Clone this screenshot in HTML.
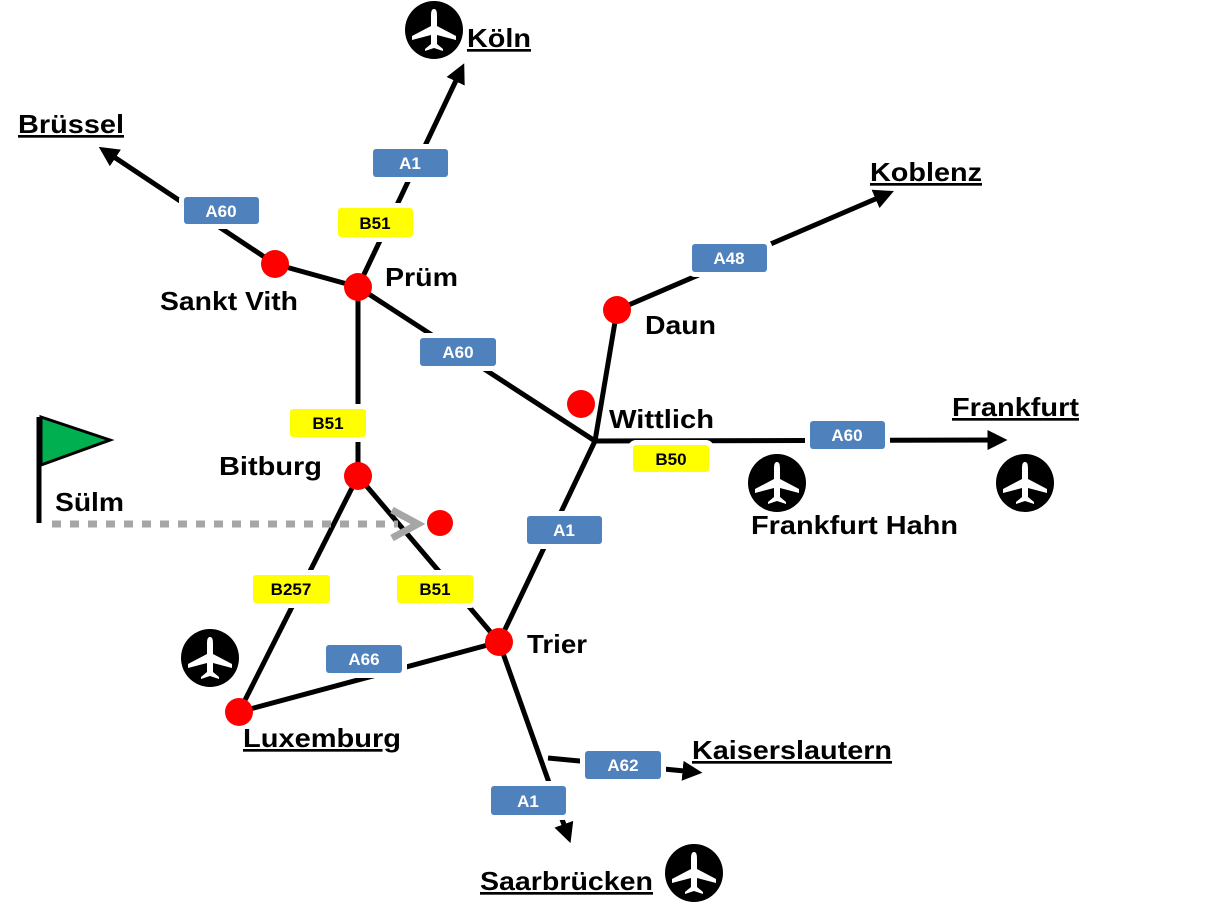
<!DOCTYPE html>
<html><head><meta charset="utf-8"><style>
body{margin:0;background:#fff}
svg{display:block}
text{font-family:"Liberation Sans",Arial,sans-serif;font-weight:bold}
.c{font-size:26px;fill:#000}
.lb{font-size:17px;text-anchor:middle}
</style></head><body>
<svg width="1209" height="906" viewBox="0 0 1209 906">
<defs>
<marker id="ah" markerWidth="4" markerHeight="4" refX="2.5" refY="2" orient="auto" markerUnits="strokeWidth">
<path d="M0,0 L4,2 L0,4 Z" fill="#000"/></marker>
<g id="plane">
<circle r="29" fill="#000"/>
<path d="M0,-21 C3,-21 3,-17 3,-13 L3,-4 L22,6 L22,10 L3,5 L3,14 L9,19 L9,21 L0,18 L-9,21 L-9,19 L-3,14 L-3,5 L-22,10 L-22,6 L-3,-4 L-3,-13 C-3,-17 -3,-21 0,-21 Z" fill="#fff"/>
</g>
</defs>
<g stroke="#000" stroke-width="5" fill="none">
<line x1="275" y1="264" x2="105" y2="151" marker-end="url(#ah)"/>
<line x1="275" y1="264" x2="358" y2="287"/>
<line x1="358" y1="287" x2="461" y2="70" marker-end="url(#ah)"/>
<line x1="358" y1="287" x2="358" y2="476"/>
<line x1="358" y1="287" x2="595" y2="441"/>
<line x1="595" y1="441" x2="617" y2="310"/>
<line x1="617" y1="310" x2="887" y2="194" marker-end="url(#ah)"/>
<line x1="595" y1="441" x2="1000" y2="440" marker-end="url(#ah)"/>
<line x1="595" y1="441" x2="499" y2="642"/>
<line x1="358" y1="476" x2="499" y2="642"/>
<line x1="358" y1="476" x2="239" y2="712"/>
<line x1="239" y1="712" x2="499" y2="642"/>
<line x1="499" y1="642" x2="568" y2="836" marker-end="url(#ah)"/>
<line x1="548" y1="758" x2="695" y2="772" marker-end="url(#ah)"/>
<line x1="39" y1="417" x2="39" y2="523"/>
</g>
<path d="M41,417 L110,440 L41,465 Z" fill="#00b050" stroke="#000" stroke-width="3"/>
<line x1="52" y1="524" x2="398" y2="524" stroke="#a6a6a6" stroke-width="7" stroke-dasharray="9,9"/>
<path d="M392,510 L418,524 L392,538" stroke="#a6a6a6" stroke-width="7" fill="none"/>
<g fill="#ff0000">
<circle cx="275" cy="264" r="14"/><circle cx="358" cy="287" r="14"/>
<circle cx="358" cy="476" r="14"/><circle cx="499" cy="642" r="14"/>
<circle cx="239" cy="712" r="14"/><circle cx="617" cy="310" r="14"/>
<circle cx="581" cy="404" r="14"/><circle cx="440" cy="523" r="13"/>
</g>
<g stroke="#fff" stroke-width="10" paint-order="stroke">
<rect x="373" y="149" width="75" height="28" rx="3" fill="#4f81bd"/>
<rect x="184" y="197" width="75" height="27" rx="3" fill="#4f81bd"/>
<rect x="338" y="208" width="75" height="29" rx="3" fill="#ffff00"/>
<rect x="692" y="244" width="75" height="28" rx="3" fill="#4f81bd"/>
<rect x="420" y="338" width="76" height="28" rx="3" fill="#4f81bd"/>
<rect x="290" y="409" width="76" height="28" rx="3" fill="#ffff00"/>
<rect x="633" y="445" width="76" height="27" rx="3" fill="#ffff00"/>
<rect x="810" y="421" width="75" height="28" rx="3" fill="#4f81bd"/>
<rect x="527" y="516" width="75" height="28" rx="3" fill="#4f81bd"/>
<rect x="253" y="575" width="77" height="28" rx="3" fill="#ffff00"/>
<rect x="397" y="575" width="76" height="28" rx="3" fill="#ffff00"/>
<rect x="326" y="645" width="76" height="28" rx="3" fill="#4f81bd"/>
<rect x="585" y="751" width="76" height="28" rx="3" fill="#4f81bd"/>
<rect x="491" y="786" width="75" height="29" rx="3" fill="#4f81bd"/>
</g>
<g fill="#fff">
<text x="410" y="169" class="lb">A1</text>
<text x="221" y="217" class="lb">A60</text>
<text x="729" y="264" class="lb">A48</text>
<text x="458" y="358" class="lb">A60</text>
<text x="847" y="441" class="lb">A60</text>
<text x="564" y="536" class="lb">A1</text>
<text x="364" y="665" class="lb">A66</text>
<text x="623" y="771" class="lb">A62</text>
<text x="528" y="807" class="lb">A1</text>
</g>
<g fill="#000">
<text x="375" y="229" class="lb">B51</text>
<text x="328" y="429" class="lb">B51</text>
<text x="671" y="465" class="lb">B50</text>
<text x="291" y="595" class="lb">B257</text>
<text x="435" y="595" class="lb">B51</text>
</g>
<g text-decoration="underline">
<text x="467" y="47" class="c" text-decoration="underline" textLength="64" lengthAdjust="spacingAndGlyphs">Köln</text>
<text x="18" y="133" class="c" text-decoration="underline" textLength="106" lengthAdjust="spacingAndGlyphs">Brüssel</text>
<text x="870" y="181" class="c" text-decoration="underline" textLength="112" lengthAdjust="spacingAndGlyphs">Koblenz</text>
<text x="952" y="416" class="c" text-decoration="underline" textLength="127" lengthAdjust="spacingAndGlyphs">Frankfurt</text>
<text x="692" y="759" class="c" text-decoration="underline" textLength="200" lengthAdjust="spacingAndGlyphs">Kaiserslautern</text>
<text x="243" y="747" class="c" text-decoration="underline" textLength="158" lengthAdjust="spacingAndGlyphs">Luxemburg</text>
<text x="480" y="890" class="c" text-decoration="underline" textLength="173" lengthAdjust="spacingAndGlyphs">Saarbrücken</text>
</g>
<text x="385" y="286" class="c" textLength="73" lengthAdjust="spacingAndGlyphs">Prüm</text>
<text x="160" y="310" class="c" textLength="138" lengthAdjust="spacingAndGlyphs">Sankt Vith</text>
<text x="645" y="334" class="c" textLength="71" lengthAdjust="spacingAndGlyphs">Daun</text>
<text x="609" y="428" class="c" textLength="105" lengthAdjust="spacingAndGlyphs">Wittlich</text>
<text x="219" y="475" class="c" textLength="103" lengthAdjust="spacingAndGlyphs">Bitburg</text>
<text x="55" y="511" class="c" textLength="69" lengthAdjust="spacingAndGlyphs">Sülm</text>
<text x="751" y="534" class="c" textLength="207" lengthAdjust="spacingAndGlyphs">Frankfurt Hahn</text>
<text x="527" y="653" class="c" textLength="60" lengthAdjust="spacingAndGlyphs">Trier</text>
<use href="#plane" x="434" y="30"/>
<use href="#plane" x="210" y="658"/>
<use href="#plane" x="777" y="483"/>
<use href="#plane" x="1025" y="483"/>
<use href="#plane" x="694" y="873"/>
</svg>
</body></html>
